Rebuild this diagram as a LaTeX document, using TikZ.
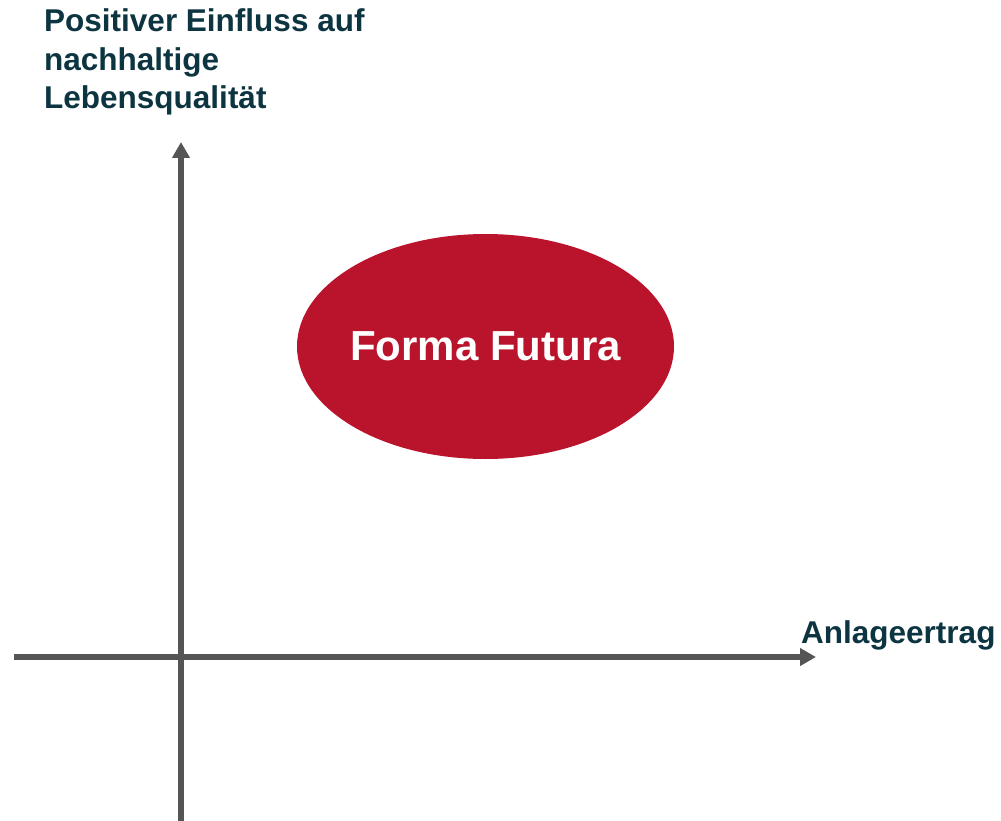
\documentclass[tikz,border=0pt]{standalone}
\usepackage{fontspec}
\setmainfont{Liberation Sans}
\usetikzlibrary{arrows.meta}
\definecolor{axisgray}{HTML}{555555}
\definecolor{ffred}{HTML}{BA142D}
\definecolor{labelteal}{HTML}{0D3541}
\tikzset{
  axis/.style={draw=axisgray,line width=5.5pt,-{Triangle[width=17pt,length=16pt]}},
  axislabel/.style={text=labelteal,font=\fontsize{31.5}{38.5}\selectfont\bfseries,inner sep=0pt},
  bubble/.style={fill=ffred,draw=none},
  bubbletext/.style={text=white,inner sep=0pt,font=\fontsize{42}{50}\selectfont\bfseries}
}
\begin{document}
\begin{tikzpicture}[x=1pt,y=-1pt]
\useasboundingbox (0,0) rectangle (1001,821);
\coordinate (yb) at (181,821);
\coordinate (yt) at (181,142);
\coordinate (xl) at (14,657);
\coordinate (xr) at (816,657);
\coordinate (ffc) at (485.5,346.5);
\draw[axis] (yb) -- (yt);
\draw[axis] (xl) -- (xr);
\fill[bubble] (ffc) ellipse [x radius=188.5pt, y radius=112.5pt];
\node[bubbletext] (ff) at (ffc) {Forma Futura};
\node[axislabel,anchor=base west,align=left] (ylab) at (44,109) {Positiver Einfluss auf\\nachhaltige\\Lebensqualität};
\node[axislabel,anchor=base west] (xlab) at (801,643) {Anlageertrag};
\end{tikzpicture}
\end{document}
